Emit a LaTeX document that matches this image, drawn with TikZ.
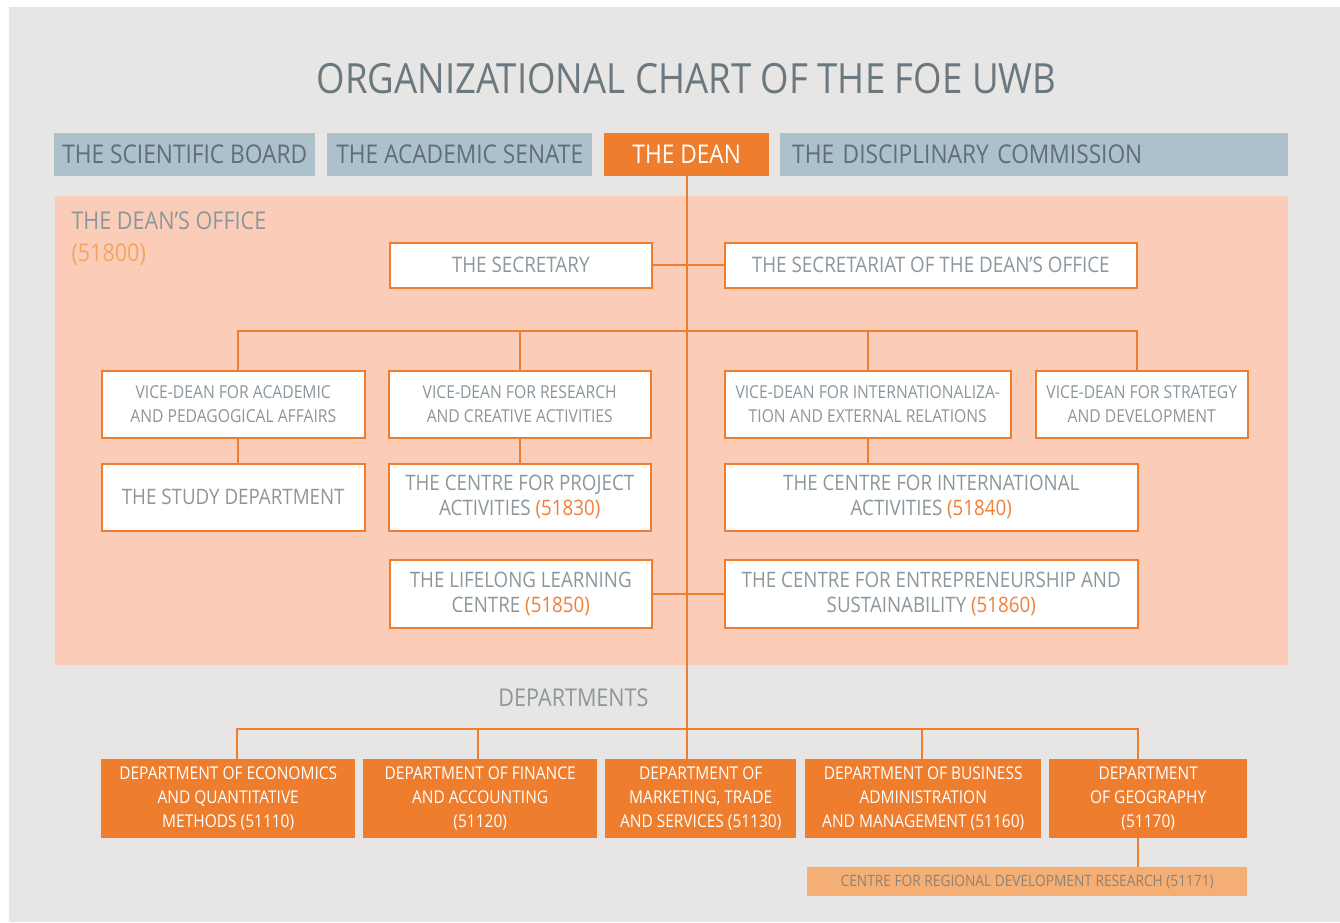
\documentclass[tikz,border=0pt]{standalone}
\usepackage{tikz}
\usepackage{xcolor}
\usepackage{fontspec}
\setmainfont{Open Sans}[FakeStretch=0.88]
\newcommand\fsz[2]{\fontsize{#1}{#2}\selectfont}

\begin{document}
\begin{tikzpicture}[x=1pt,y=-1pt,
  topbox/.style={fill=slate,text=slatetext,font=\fsz{25.8}{30},minimum height=43,inner sep=0,anchor=north west},
  wbox/.style={fill=white,draw=orange,line width=1.5,text=boxtext,align=center,inner sep=0,anchor=north west},
  deptbox/.style={fill=orange,text=white,align=center,inner sep=0,anchor=north west,minimum height=79,font=\fsz{17.6}{24}},
  conn/.style={draw=orange,line width=1.8}]
\definecolor{bggray}{HTML}{E7E6E4}
\definecolor{slate}{HTML}{ADC1CA}
\definecolor{slatetext}{HTML}{5F6E78}
\definecolor{titlegray}{HTML}{6B7880}
\definecolor{orange}{HTML}{EE7D2E}
\definecolor{peach}{HTML}{FBCDB9}
\definecolor{boxtext}{HTML}{8C979D}
\definecolor{numorange}{HTML}{F07F3A}
\definecolor{officenum}{HTML}{F4A461}
\definecolor{lightorange}{HTML}{F5AF74}
\definecolor{regtext}{HTML}{8F8276}
\useasboundingbox (0,0) rectangle (1340,922);
\fill[white] (0,0) rectangle (1340,922);
\fill[bggray] (9,7) rectangle (1340,922);
\node[anchor=base,font=\fsz{41.6}{48},text=titlegray] (title) at (686.5,93) {ORGANIZATIONAL CHART OF THE FOE UWB};
% top row
\node[topbox,minimum width=261] (board) at (54,133) {THE SCIENTIFIC BOARD};
\node[topbox,minimum width=265] (senate) at (327,133) {THE ACADEMIC SENATE};
\node[topbox,fill=orange,text=white,minimum width=165] (dean) at (604,133) {THE DEAN};
\node[topbox,minimum width=508,text width=484,align=left] (discipline) at (780,133) {THE DISCIPLINARY COMMISSION};
% the dean's office
\node[fill=peach,minimum width=1233,minimum height=469,inner sep=0,anchor=north west] (office) at (55,196) {};
\node[anchor=base west,align=left,text=boxtext,font=\fsz{24.5}{32}] (officelbl) at (68,261) {THE DEAN'S OFFICE\\\textcolor{officenum}{(51800)}};
\node[wbox,minimum width=262,minimum height=45,font=\fsz{21.4}{25}] (secretary) at (389,242) {THE SECRETARY};
\node[wbox,minimum width=412,minimum height=45,font=\fsz{21.4}{25}] (secretariat) at (724,242) {THE SECRETARIAT OF THE DEAN'S OFFICE};
\tikzset{vd/.style={wbox,minimum height=67,font=\fsz{17.8}{24}}}
\node[vd,minimum width=263] (vdacad) at (101,370) {VICE-DEAN FOR ACADEMIC\\AND PEDAGOGICAL AFFAIRS};
\node[vd,minimum width=262] (vdres) at (388,370) {VICE-DEAN FOR RESEARCH\\AND CREATIVE ACTIVITIES};
\node[vd,minimum width=286] (vdint) at (724,370) {VICE-DEAN FOR INTERNATIONALIZA-\\TION AND EXTERNAL RELATIONS};
\node[vd,minimum width=212] (vdstrat) at (1035,370) {VICE-DEAN FOR STRATEGY\\AND DEVELOPMENT};
\tikzset{centre/.style={wbox,minimum height=67,font=\fsz{21.3}{25}}}
\node[centre,minimum width=263] (study) at (101,463) {THE STUDY DEPARTMENT};
\node[centre,minimum width=262] (project) at (388,463) {THE CENTRE FOR PROJECT\\ACTIVITIES \textcolor{numorange}{(51830)}};
\node[centre,minimum width=413] (intl) at (724,463) {THE CENTRE FOR INTERNATIONAL\\ACTIVITIES \textcolor{numorange}{(51840)}};
\node[centre,minimum width=262,minimum height=68] (lifelong) at (389,559) {THE LIFELONG LEARNING\\CENTRE \textcolor{numorange}{(51850)}};
\node[centre,minimum width=413,minimum height=68] (entre) at (724,559) {THE CENTRE FOR ENTREPRENEURSHIP AND\\SUSTAINABILITY \textcolor{numorange}{(51860)}};
% departments
\node[anchor=base east,text=boxtext,font=\fsz{24.5}{28}] (deptlbl) at (652,706) {DEPARTMENTS};
\foreach \nm/\xx/\ww/\txt in {d1/101/254/{DEPARTMENT OF ECONOMICS\\AND QUANTITATIVE\\METHODS (51110)},
    d2/363/234/{DEPARTMENT OF FINANCE\\AND ACCOUNTING\\(51120)},
    d3/605/191/{DEPARTMENT OF\\MARKETING, TRADE\\AND SERVICES (51130)},
    d4/805/236/{DEPARTMENT OF BUSINESS\\ADMINISTRATION\\AND MANAGEMENT (51160)},
    d5/1049/198/{DEPARTMENT\\OF GEOGRAPHY\\(51170)}}
  {\node[deptbox,minimum width=\ww] (\nm) at (\xx,759) {\txt};}
\node[fill=lightorange,text=regtext,font=\fsz{15.6}{18},minimum width=440,minimum height=29,inner sep=0,anchor=north west] (region) at (807,867) {CENTRE FOR REGIONAL DEVELOPMENT RESEARCH (51171)};
% connectors
\coordinate (vdbar) at (688,331);
\coordinate (deptbar) at (688,729);
\draw[conn] (dean.south) -- (dean.south |- d3.north);
\draw[conn] (secretary.east) -- (secretariat.west);
\draw[conn] ([xshift=5]vdacad.north) -- ([xshift=5]vdacad.north |- vdbar) -- ([xshift=-5]vdstrat.north |- vdbar) -- ([xshift=-5]vdstrat.north);
\draw[conn] (vdres.north) -- (vdres.north |- vdbar);
\draw[conn] (vdint.north) -- (vdint.north |- vdbar);
\draw[conn] ([xshift=5]vdacad.south) -- ([xshift=5]study.north);
\draw[conn] (vdres.south) -- (project.north);
\draw[conn] (vdint.south) -- (vdint.south |- intl.north);
\draw[conn] (lifelong.east) -- (entre.west);
\draw[conn] ([xshift=9]d1.north) -- ([xshift=9]d1.north |- deptbar) -- ([xshift=-10]d5.north |- deptbar) -- ([xshift=-10]d5.north);
\draw[conn] ([xshift=-2]d2.north) -- ([xshift=-2]d2.north |- deptbar);
\draw[conn] ([xshift=-1]d4.north) -- ([xshift=-1]d4.north |- deptbar);
\draw[conn] ([xshift=-10]d5.south) -- ([xshift=-10]d5.south |- region.north);
\end{tikzpicture}
\end{document}
